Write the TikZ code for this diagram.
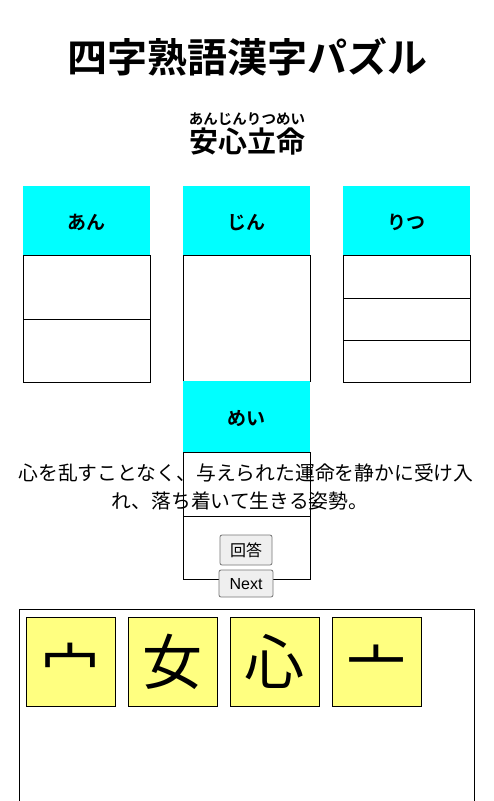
\documentclass[tikz,border=0pt]{standalone}
\usepackage{fontspec}
\setmainfont{Liberation Sans}
\newfontfamily\jp{Noto Sans CJK JP}
\newfontfamily\jpb{Noto Sans CJK JP Bold}
\definecolor{hdr}{HTML}{00FFFF}
\definecolor{tile}{HTML}{FFFF80}
\definecolor{btnfill}{HTML}{EFEFEF}
\definecolor{btnline}{HTML}{767676}
\begin{document}
\begin{tikzpicture}[x=1pt,y=-1pt,
  hdrbox/.style={fill=hdr,draw=none},
  cellbox/.style={draw=black,line width=1pt,fill=white},
  txt/.style={inner sep=0pt,anchor=base},
  btn/.style={draw=btnline,fill=btnfill,line width=0.8pt,rounded corners=2pt},
  tilebox/.style={draw=black,line width=1pt,fill=tile}]
\useasboundingbox (0,0) rectangle (494,801);
\fill[white] (0,0) rectangle (494,801);
% title
\node[txt] (title) at (247,72) {\jpb\fontsize{40}{48}\selectfont 四字熟語漢字パズル};
\node[txt] (ruby) at (247,124) {\jpb\fontsize{14.5}{16}\selectfont あんじんりつめい};
\node[txt] (word) at (247,152) {\jpb\fontsize{29}{34}\selectfont 安心立命};
% column 1
\path[hdrbox] (23,186) rectangle (150,255);
\node[txt] (h1) at (86.5,229) {\jpb\fontsize{19}{22}\selectfont あん};
\draw[cellbox] (23,255) rectangle (150,319);
\draw[cellbox] (23,319) rectangle (150,382);
% column 2
\path[hdrbox] (183,186) rectangle (310,255);
\node[txt] (h2) at (246.5,229) {\jpb\fontsize{19}{22}\selectfont じん};
\draw[cellbox] (183,255) rectangle (310,381);
% column 3
\path[hdrbox] (343,186) rectangle (470,255);
\node[txt] (h3) at (406.5,229) {\jpb\fontsize{19}{22}\selectfont りつ};
\draw[cellbox] (343,255) rectangle (470,298);
\draw[cellbox] (343,298) rectangle (470,340);
\draw[cellbox] (343,340) rectangle (470,382);
% column 4 (めい)
\path[hdrbox] (183,381) rectangle (310,452);
\node[txt] (h4) at (246.5,425) {\jpb\fontsize{19}{22}\selectfont めい};
\draw[cellbox,fill=none] (183,452) rectangle (310,516);
\draw[cellbox,fill=none] (183,516) rectangle (310,579);
% description
\node[txt] (d1) at (246,480) {\jp\fontsize{19.8}{28}\selectfont 心を乱すことなく、与えられた運命を静かに受け入};
\node[txt] (d2) at (240,508) {\jp\fontsize{19.8}{28}\selectfont れ、落ち着いて生きる姿勢。};
% buttons
\draw[btn] (220,535) rectangle (272,565);
\node[txt] (b1) at (246,556) {\jp\fontsize{16}{18}\selectfont 回答};
\draw[btn] (219,570) rectangle (273,597);
\node[txt] (b2) at (246,589) {\fontsize{16}{18}\selectfont Next};
% bottom area
\draw[line width=1pt] (19,820) -- (19,609) -- (474,609) -- (474,820);
\draw[tilebox] (26,617) rectangle (115,706);
\draw[tilebox] (128,617) rectangle (217,706);
\draw[tilebox] (230,617) rectangle (319,706);
\draw[tilebox] (332,617) rectangle (421,706);
\node[txt] (t1) at (70.5,684) {\jp\fontsize{60}{60}\selectfont 宀};
\node[txt] (t2) at (172.5,684) {\jp\fontsize{60}{60}\selectfont 女};
\node[txt] (t3) at (274.5,684) {\jp\fontsize{60}{60}\selectfont 心};
\node[txt] (t4) at (376.5,684) {\jp\fontsize{60}{60}\selectfont 亠};
\end{tikzpicture}
\end{document}
